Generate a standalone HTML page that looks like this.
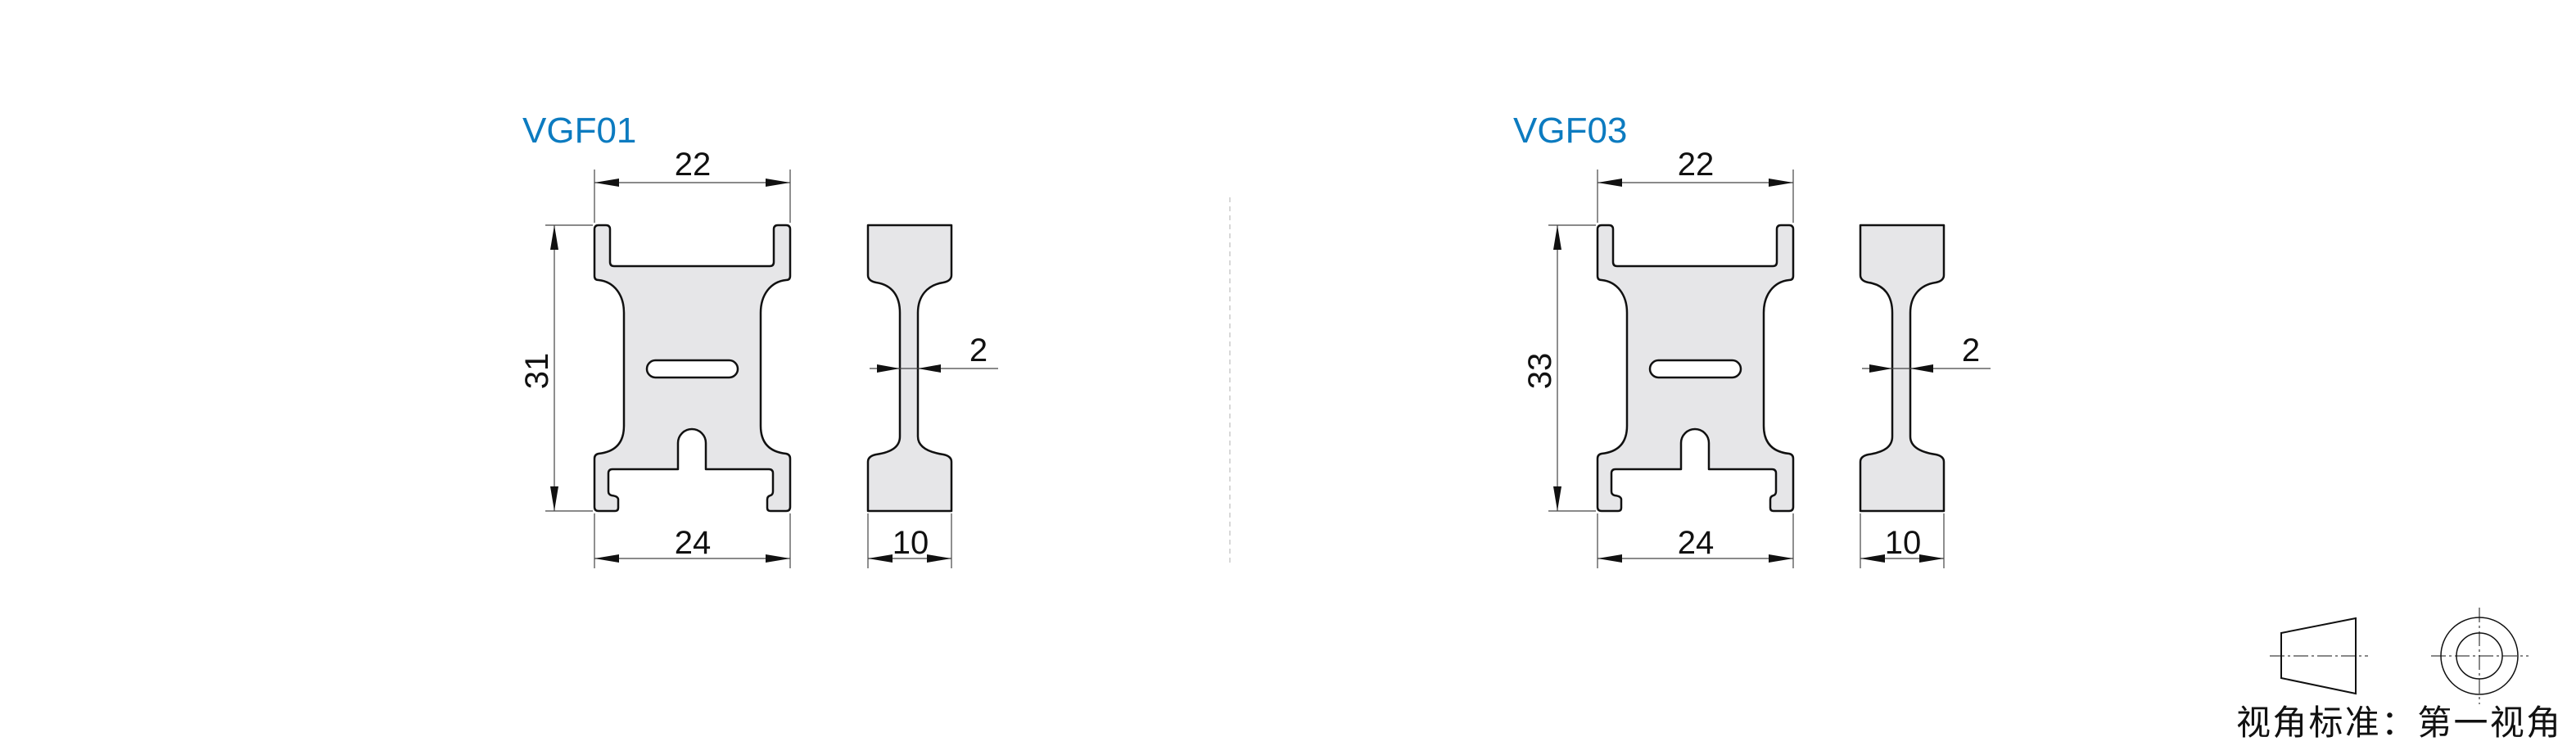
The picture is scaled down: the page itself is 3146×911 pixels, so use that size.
<!DOCTYPE html>
<html><head><meta charset="utf-8"><style>html,body{margin:0;padding:0;background:#fff}svg{display:block}</style></head>
<body>
<svg width="3146" height="911" viewBox="0 0 3146 911" xmlns="http://www.w3.org/2000/svg" font-family="Liberation Sans, Arial, sans-serif">
<defs>
<g id="front">
  <path d="M726,280 Q726,275 731,275 H740 Q745,275 745,280 V320 Q745,325 750,325 H940 Q945,325 945,320 V280 Q945,275 950,275 H960 Q965,275 965,280 V337 Q965,342 960,342 C941,344 929,360 929,382 V520 C929,542 941,552 960,554 Q965,555 965,560 V619 Q965,624 960,624 H941 Q937,624 937,620 V610 Q937,606 941,605 Q944,604 944,600 V578 Q944,573 939,573 H862 V541 A17,17 0 0 0 828,541 V573 H748 Q743,573 743,578 V600 Q743,604 747,605 Q755,606 755,610 V620 Q755,624 751,624 H731 Q726,624 726,619 V560 Q726,555 731,554 C750,552 762,542 762,520 V382 C762,360 750,344 731,342 Q726,342 726,337 Z" fill="#e6e6e8" stroke="#111" stroke-width="2.5" stroke-linejoin="round"/>
  <rect x="790" y="440" width="111" height="21" rx="10.5" fill="#fff" stroke="#111" stroke-width="2.5"/>
  <g stroke="#444" stroke-width="1.2">
    <line x1="726" y1="207" x2="726" y2="272"/><line x1="965" y1="207" x2="965" y2="272"/>
    <line x1="726" y1="223" x2="965" y2="223"/>
    <line x1="666" y1="275" x2="724" y2="275"/><line x1="666" y1="624" x2="724" y2="624"/>
    <line x1="677" y1="275" x2="677" y2="624"/>
    <line x1="726" y1="627" x2="726" y2="694"/><line x1="965" y1="627" x2="965" y2="694"/>
    <line x1="726" y1="682" x2="965" y2="682"/>
  </g>
  <g fill="#111">
    <polygon points="726,223 756,218 756,228"/><polygon points="965,223 935,218 935,228"/>
    <polygon points="726,682 756,677 756,687"/><polygon points="965,682 935,677 935,687"/>
    <polygon points="677,275 672,305 682,305"/><polygon points="677,624 672,594 682,594"/>
  </g>
  <text x="846" y="214" font-size="40" text-anchor="middle" fill="#111">22</text>
  <text x="846" y="676" font-size="40" text-anchor="middle" fill="#111">24</text>
</g>
<g id="side">
  <path d="M1060,275 H1162 V336 Q1162,343 1152,345 C1132,348 1121,362 1121,382 V533 C1121,545 1132,552 1152,555 Q1162,557 1162,564 V624 H1060 V564 Q1060,557 1070,555 C1090,552 1099,545 1099,533 V382 C1099,362 1090,348 1070,345 Q1060,343 1060,336 Z" fill="#e6e6e8" stroke="#111" stroke-width="2.5" stroke-linejoin="round"/>
  <g stroke="#444" stroke-width="1.2">
    <line x1="1062" y1="450" x2="1219" y2="450"/>
    <line x1="1060" y1="627" x2="1060" y2="694"/><line x1="1162" y1="627" x2="1162" y2="694"/>
    <line x1="1060" y1="682" x2="1162" y2="682"/>
  </g>
  <g fill="#111">
    <polygon points="1099,450 1071,445 1071,455"/><polygon points="1121,450 1149,445 1149,455"/>
    <polygon points="1060,682 1090,677 1090,687"/><polygon points="1162,682 1132,677 1132,687"/>
  </g>
  <text x="1195" y="441" font-size="40" text-anchor="middle" fill="#111">2</text>
  <text x="1112" y="676" font-size="40" text-anchor="middle" fill="#111">10</text>
</g>
</defs>

<text x="638" y="174" font-size="44" fill="#0c7bc0">VGF01</text>
<use href="#front"/>
<use href="#side"/>
<text transform="translate(669,453) rotate(-90)" font-size="40" text-anchor="middle" fill="#111">31</text>

<line x1="1502" y1="241" x2="1502" y2="692" stroke="#ccc" stroke-width="1.5" stroke-dasharray="6,5"/>

<text x="1848" y="174" font-size="44" fill="#0c7bc0">VGF03</text>
<g transform="translate(1225,0)"><use href="#front"/></g>
<g transform="translate(1212,0)"><use href="#side"/></g>
<text transform="translate(1894,453) rotate(-90)" font-size="40" text-anchor="middle" fill="#111">33</text>

<g stroke="#111" fill="none">
  <polygon points="2786,773 2877,755 2877,847 2786,828" stroke-width="2"/>
  <line x1="2772" y1="801" x2="2892" y2="801" stroke-width="1" stroke-dasharray="18,4,3,4"/>
  <circle cx="3028" cy="801" r="47" stroke-width="1.5"/>
  <circle cx="3028" cy="801" r="28" stroke-width="1.5"/>
  <line x1="3028" y1="742" x2="3028" y2="860" stroke-width="1" stroke-dasharray="18,4,3,4"/>
  <line x1="2969" y1="801" x2="3088" y2="801" stroke-width="1" stroke-dasharray="18,4,3,4"/>
</g>
<text x="2731" y="897" font-size="42" fill="#111" font-family="Liberation Sans, Noto Sans CJK SC, sans-serif" textLength="396">视角标准：第一视角</text>
</svg>
</body></html>
